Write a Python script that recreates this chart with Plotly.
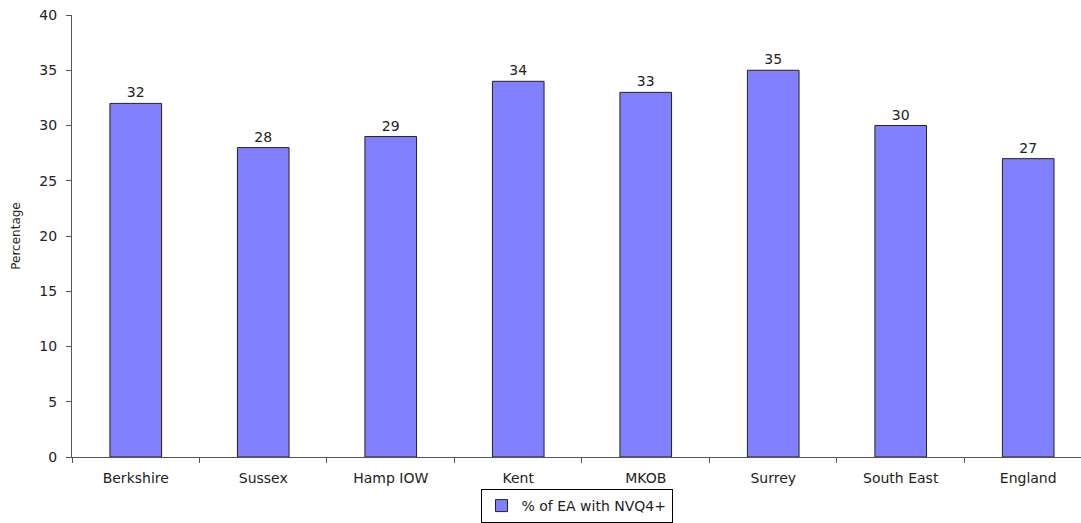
import plotly.graph_objects as go

regions = ["Berkshire", "Sussex", "Hamp IOW", "Kent", "MKOB", "Surrey", "South East", "England"]
nvq4_pct = [32, 28, 29, 34, 33, 35, 30, 27]
series_name = "% of EA with NVQ4+"
y_ticks = [0, 5, 10, 15, 20, 25, 30, 35, 40]

font_family = "Century Gothic, URW Gothic, DejaVu Sans, sans-serif"

fig = go.Figure()
fig.add_trace(go.Bar(
    x=regions,
    y=nvq4_pct,
    name=series_name,
    width=0.405,
    marker=dict(color="#8080FF", line=dict(color="#222222", width=1)),
    text=[str(v) for v in nvq4_pct],
    textposition="outside",
    cliponaxis=False,
    textfont=dict(size=14, color="#222222", family=font_family),
    showlegend=True,
))

fig.update_layout(
    width=1081,
    height=523,
    margin=dict(l=72, r=0, t=15, b=66, autoexpand=False),
    paper_bgcolor="white",
    plot_bgcolor="white",
    font=dict(family=font_family, size=14, color="#222222"),
    showlegend=True,
    legend=dict(
        orientation="h",
        x=0.5, xanchor="center",
        yref="container",
        y=0.0, yanchor="bottom",
        bordercolor="#000000",
        borderwidth=1,
        font=dict(size=14, color="#222222", family=font_family),
        itemwidth=30,
    ),
    xaxis=dict(
        type="category",
        range=[-0.5, 7.414],
        showline=True,
        linecolor="#555555",
        linewidth=1,
        ticks="outside",
        tickson="boundaries",
        ticklen=5,
        tickcolor="#555555",
        showgrid=False,
        ticklabelstandoff=8,
        tickfont=dict(size=14, color="#222222"),
        fixedrange=True,
    ),
    yaxis=dict(
        range=[0, 40],
        tickvals=y_ticks,
        showline=True,
        linecolor="#555555",
        linewidth=1,
        ticks="outside",
        ticklen=5,
        tickcolor="#555555",
        showgrid=False,
        zeroline=False,
        ticklabelstandoff=6,
        tickfont=dict(size=14, color="#222222"),
        title=dict(text="Percentage", font=dict(size=12, color="#222222"), standoff=16),
        fixedrange=True,
    ),
)

fig.write_html("out.html")
